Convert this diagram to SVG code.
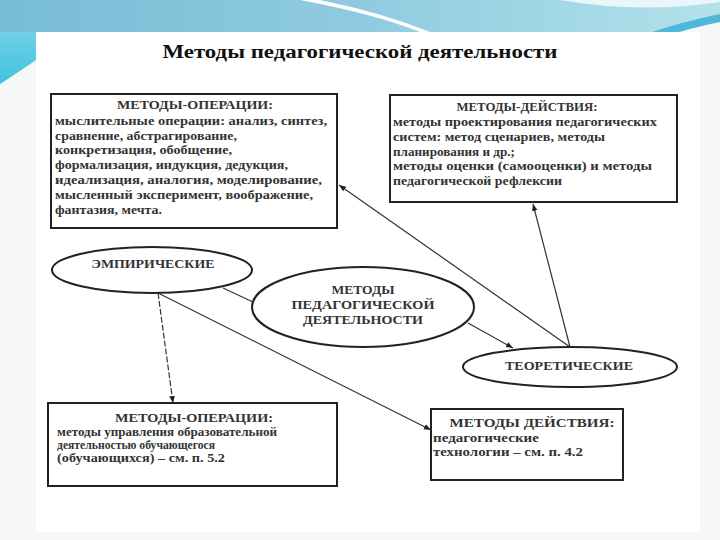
<svg xmlns="http://www.w3.org/2000/svg" width="720" height="540" viewBox="0 0 720 540">
<defs>
<linearGradient id="band" x1="0" y1="0" x2="1" y2="0">
<stop offset="0" stop-color="#78bcd5"/>
<stop offset="0.5" stop-color="#8fcbe0"/>
<stop offset="1" stop-color="#b3e2ea"/>
</linearGradient>
<linearGradient id="cyan" x1="0" y1="0" x2="0" y2="1">
<stop offset="0" stop-color="#6fd0e6"/>
<stop offset="1" stop-color="#3fc3e0"/>
</linearGradient>
<marker id="arr" viewBox="0 0 10 10" refX="10" refY="5" markerWidth="7" markerHeight="7" orient="auto-start-reverse" markerUnits="userSpaceOnUse">
<path d="M0,1 L10,5 L0,9 Z" fill="#222"/>
</marker>
<style>
text{font-family:"Liberation Serif","Times New Roman","DejaVu Serif",serif;font-weight:bold;fill:#333}
.box{fill:#fff;stroke:#222;stroke-width:2}
.ell{fill:#fff;stroke:#222;stroke-width:2}
.hd{font-size:12.5px;text-anchor:middle}
.tx{font-size:12.5px}
.el{font-size:12.5px;text-anchor:middle}
.cn{fill:none;stroke:#333;stroke-width:1.2}
</style>
</defs>
<rect width="720" height="540" fill="#f6f8f8"/>
<path d="M0,0 H720 V22 Q690,26 650,38 L36,34 V60 L0,84 Z" fill="url(#band)"/>
<path d="M0,32 H36 V60 L0,84 Z" fill="url(#cyan)"/>
<path d="M320,0 Q380,12 430,32 L420,32 Q375,14 300,0 Z" fill="#ffffff"/>
<path d="M560,0 Q640,14 720,2 L720,0 Z" fill="#eaf7fa"/>
<path d="M640,36 Q680,22 720,14 L720,22 Q690,28 660,38 Z" fill="#4fb8d8"/>
<rect x="36" y="32" width="664" height="500" fill="#ffffff"/>
<text x="360" y="58" font-size="18" text-anchor="middle" style="fill:#111" textLength="395" lengthAdjust="spacingAndGlyphs">Методы педагогической деятельности</text>

<g id="connectors">
<line class="cn" x1="158" y1="293" x2="173" y2="403" stroke-dasharray="6 2" marker-end="url(#arr)"/>
<line class="cn" x1="158" y1="293" x2="431" y2="430" marker-end="url(#arr)"/>
<line class="cn" x1="223" y1="288" x2="253" y2="302"/>
<line class="cn" x1="468" y1="323" x2="513" y2="348" marker-end="url(#arr)"/>
<line class="cn" x1="570" y1="347" x2="339" y2="185" marker-end="url(#arr)"/>
<line class="cn" x1="570" y1="347" x2="533" y2="204" marker-end="url(#arr)"/>
</g>

<g id="box-ops-top">
<rect class="box" x="51" y="94" width="286" height="134"/>
<text class="hd" x="195" y="109" textLength="156" lengthAdjust="spacingAndGlyphs">МЕТОДЫ-ОПЕРАЦИИ:</text>
<text class="tx" x="55" y="125" textLength="272" lengthAdjust="spacingAndGlyphs">мыслительные операции: анализ, синтез,</text>
<text class="tx" x="55" y="140" textLength="182" lengthAdjust="spacingAndGlyphs">сравнение, абстрагирование,</text>
<text class="tx" x="55" y="154" textLength="177" lengthAdjust="spacingAndGlyphs">конкретизация, обобщение,</text>
<text class="tx" x="55" y="169" textLength="233" lengthAdjust="spacingAndGlyphs">формализация, индукция, дедукция,</text>
<text class="tx" x="55" y="184" textLength="267" lengthAdjust="spacingAndGlyphs">идеализация, аналогия, моделирование,</text>
<text class="tx" x="55" y="199" textLength="258" lengthAdjust="spacingAndGlyphs">мысленный эксперимент, воображение,</text>
<text class="tx" x="55" y="214" textLength="107" lengthAdjust="spacingAndGlyphs">фантазия, мечта.</text>
</g>

<g id="box-act-top">
<rect class="box" x="390" y="95" width="287" height="107"/>
<text class="hd" x="527" y="111" textLength="141" lengthAdjust="spacingAndGlyphs">МЕТОДЫ-ДЕЙСТВИЯ:</text>
<text class="tx" x="393" y="126" textLength="264" lengthAdjust="spacingAndGlyphs">методы проектирования педагогических</text>
<text class="tx" x="393" y="141" textLength="212" lengthAdjust="spacingAndGlyphs">систем: метод сценариев, методы</text>
<text class="tx" x="393" y="156" textLength="122" lengthAdjust="spacingAndGlyphs">планирования и др.;</text>
<text class="tx" x="393" y="170" textLength="259" lengthAdjust="spacingAndGlyphs">методы оценки (самооценки) и методы</text>
<text class="tx" x="393" y="185" textLength="169" lengthAdjust="spacingAndGlyphs">педагогической рефлексии</text>
</g>

<g id="ell-emp">
<ellipse class="ell" cx="152" cy="270" rx="100" ry="23"/>
<text class="el" x="153" y="268" textLength="123" lengthAdjust="spacingAndGlyphs">ЭМПИРИЧЕСКИЕ</text>
</g>

<g id="ell-center">
<ellipse class="ell" cx="363" cy="307" rx="111" ry="40"/>
<text class="el" x="363" y="294" textLength="63" lengthAdjust="spacingAndGlyphs">МЕТОДЫ</text>
<text class="el" x="363" y="309" textLength="143" lengthAdjust="spacingAndGlyphs">ПЕДАГОГИЧЕСКОЙ</text>
<text class="el" x="363" y="324" textLength="120" lengthAdjust="spacingAndGlyphs">ДЕЯТЕЛЬНОСТИ</text>
</g>

<g id="ell-teor">
<ellipse class="ell" cx="570" cy="367" rx="107" ry="20"/>
<text class="el" x="569" y="370" textLength="128" lengthAdjust="spacingAndGlyphs">ТЕОРЕТИЧЕСКИЕ</text>
</g>

<g id="box-ops-bottom">
<rect class="box" x="48" y="403" width="289" height="83"/>
<text class="hd" x="194" y="422" textLength="158" lengthAdjust="spacingAndGlyphs">МЕТОДЫ-ОПЕРАЦИИ:</text>
<text class="tx" x="57" y="436" textLength="220" lengthAdjust="spacingAndGlyphs">методы управления образовательной</text>
<text class="tx" x="57" y="449" textLength="158" lengthAdjust="spacingAndGlyphs">деятельностью обучающегося</text>
<text class="tx" x="57" y="462" textLength="168" lengthAdjust="spacingAndGlyphs">(обучающихся) – см. п. 5.2</text>
</g>

<g id="box-act-bottom">
<rect class="box" x="431" y="409" width="192" height="71"/>
<text class="hd" x="532" y="427" textLength="165" lengthAdjust="spacingAndGlyphs">МЕТОДЫ ДЕЙСТВИЯ:</text>
<text class="tx" x="433" y="442" textLength="106" lengthAdjust="spacingAndGlyphs">педагогические</text>
<text class="tx" x="433" y="456" textLength="150" lengthAdjust="spacingAndGlyphs">технологии – см. п. 4.2</text>
</g>
</svg>
